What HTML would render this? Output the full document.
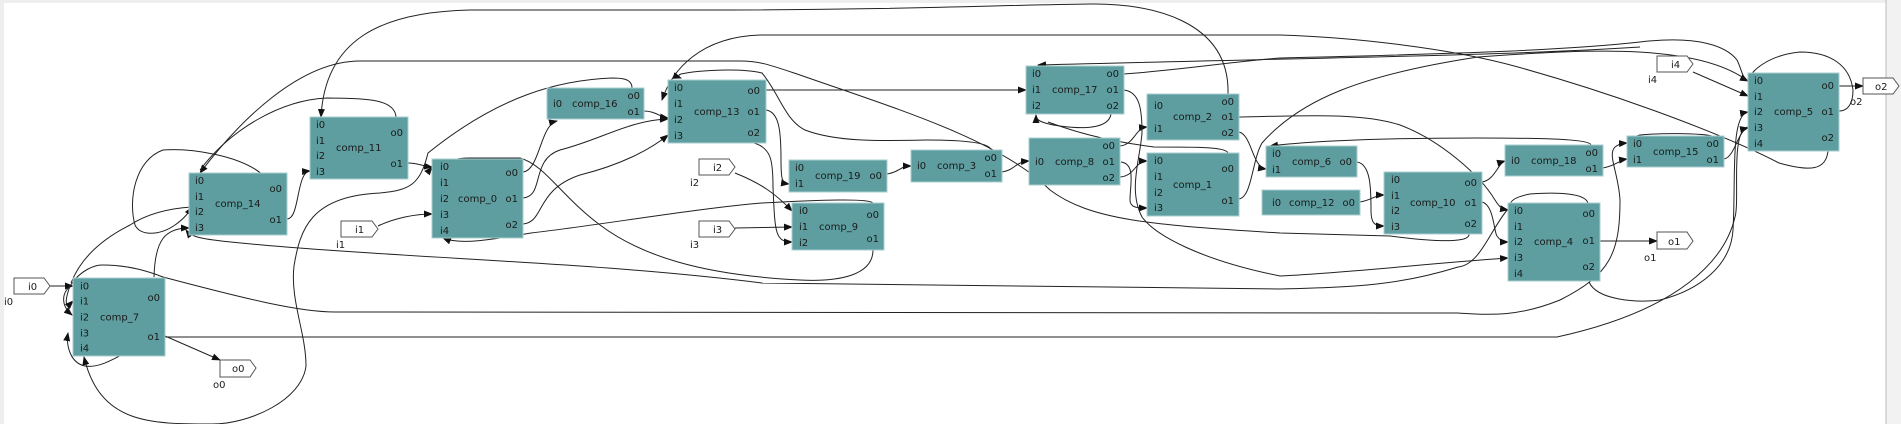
<!DOCTYPE html>
<html><head><meta charset="utf-8"><style>
html,body{margin:0;padding:0;background:#fff;}
body{width:1901px;height:424px;overflow:hidden;position:relative;}
svg{position:absolute;left:0;top:0;}
text{font-family:"DejaVu Sans","Liberation Sans",sans-serif;font-size:10px;fill:#1a1a1a;}
.b{fill:#5f9ea0;stroke:#a9cfd0;stroke-width:1;}
.e{fill:none;stroke:#222;stroke-width:1;}
.p{fill:#fff;stroke:#555;stroke-width:1;}
.r{text-anchor:end;}
.m{text-anchor:middle;}
</style></head><body>
<svg width="1901" height="424" viewBox="0 0 1901 424">
<defs><marker id="a" markerWidth="9" markerHeight="7" refX="8" refY="3.5" orient="auto" markerUnits="userSpaceOnUse"><path d="M0,0 L9,3.5 L0,7 z" fill="#111"/></marker></defs>
<rect x="0" y="0" width="1901" height="3" fill="#eee"/>
<rect x="0" y="0" width="4" height="424" fill="#eee"/>
<rect x="1886" y="0" width="15" height="424" fill="#f2f2f2"/>
<line x1="1886" y1="0" x2="1886" y2="424" stroke="#bbb"/>

<!-- edges -->
<g class="e">
<path d="M50,286 L73,286" marker-end="url(#a)"/>
<path d="M165,336 L220,360" marker-end="url(#a)"/>
<path d="M154,277 C155,240 165,228 189,228" marker-end="url(#a)"/>
<path d="M287,219 C300,219 296,172 310,171" marker-end="url(#a)"/>
<path d="M408,163 C418,163 422,166 432,167" marker-end="url(#a)"/>
<path d="M378,226 C395,218 415,214 432,214" marker-end="url(#a)"/>
<path d="M523,172 C540,170 540,125 557,121" marker-end="url(#a)"/>
<path d="M523,198 C545,196 530,160 560,150 C600,140 630,120 668,119" marker-end="url(#a)"/>
<path d="M523,224 C545,222 535,190 580,175 C620,165 650,150 668,135" marker-end="url(#a)"/>
<path d="M644,111 C655,111 660,117 668,118" marker-end="url(#a)"/>
<path d="M1228,94 C1230,20 1150,3 1090,4 C1000,5 900,10 700,10 L470,10 C380,12 325,40 321,117" marker-end="url(#a)"/>
<path d="M1469,234 C1470,245 1420,240 1390,236 L1280,233 C1150,225 1090,220 1050,190 C1000,140 900,110 800,75 C770,65 760,61 740,61 L360,61 C300,61 240,120 200,173" marker-end="url(#a)"/>
<path d="M1828,151 C1826,170 1811,172 1779,163 C1735,140 1636,100 1518,67 C1450,48 1350,37 1280,35 L760,35 C700,37 672,70 662,100" marker-end="url(#a)"/>
<path d="M632,88 C632,78 620,78 612,78 C560,80 500,95 428,153 C420,185 410,190 380,193 C310,196 300,230 294,266 C290,300 306,333 306,366 C302,400 250,424 212,424 C150,424 100,424 84,357" marker-end="url(#a)"/>
<path d="M1748,127 C1730,130 1740,200 1735,217 C1725,260 1680,310 1557,337 L163,337 C130,345 106,370 85,366 C70,363 66,345 68,333" marker-end="url(#a)"/>
<path d="M70,286 C80,270 95,265 102,265 C130,265 150,272 163,277 C250,300 300,312 335,312 L1458,313 C1490,315 1518,317 1560,300 C1610,275 1620,253 1620,200 C1618,165 1600,145 1627,143" marker-end="url(#a)"/>
<path d="M1508,209 C1490,230 1480,265 1458,267 C1400,285 1359,287 1280,289 L762,283 C600,263 449,260 286,247 C200,240 192,238 186,230" marker-end="url(#a)"/>
<path d="M873,250 C873,275 840,282 800,280 C700,275 640,255 600,225 C560,195 545,165 520,158 L470,158 C440,158 428,172 432,167" marker-end="url(#a)"/>
<path d="M873,203 C869,198 820,200 762,203 C700,208 600,225 531,233 C490,240 460,245 443,238" marker-end="url(#a)"/>
<path d="M735,173 C760,183 775,193 792,211" marker-end="url(#a)"/>
<path d="M735,228 L792,227" marker-end="url(#a)"/>
<path d="M754,143 C771,148 773,160 773,187 C775,233 775,242 792,242" marker-end="url(#a)"/>
<path d="M766,110 C779,112 781,130 781,160 C781,180 782,183 789,184" marker-end="url(#a)"/>
<path d="M887,174 C900,172 900,166 911,166" marker-end="url(#a)"/>
<path d="M1002,172 C1015,170 1015,162 1029,161" marker-end="url(#a)"/>
<path d="M991,150 C990,142 960,140 926,140 C880,141 836,142 805,130 C785,120 780,95 762,73 C740,68 700,70 681,74 C678,75 678,77 681,78" marker-end="url(#a)"/>
<path d="M766,90 L1026,90" marker-end="url(#a)"/>
<path d="M1111,114 C1109,127 1089,130 1060,126 C1040,123 1036,120 1036,115" marker-end="url(#a)"/>
<path d="M1228,153 C1226,147 1200,147 1154,147 C1100,140 1070,130 1048,122"/>
<path d="M1120,146 C1135,144 1135,128 1147,127" marker-end="url(#a)"/>
<path d="M1120,177 C1135,176 1135,161 1147,161" marker-end="url(#a)"/>
<path d="M1121,162 C1136,164 1130,185 1130,200 C1130,208 1138,208 1147,208" marker-end="url(#a)"/>
<path d="M1124,90 C1140,92 1142,110 1142,133 C1140,160 1128,190 1142,217 C1155,235 1200,260 1280,276 C1359,272 1420,264 1508,258" marker-end="url(#a)"/>
<path d="M1124,74 C1180,70 1230,62 1280,58 C1400,55 1550,52 1640,42 C1700,35 1727,47 1737,60 C1742,70 1742,78 1748,81" marker-end="url(#a)"/>
<path d="M1640,47 C1500,56 1300,58 1038,65" marker-end="url(#a)"/>
<path d="M1239,117 C1300,116 1360,112 1400,125 C1440,140 1480,175 1495,200 C1500,208 1502,209 1508,210" marker-end="url(#a)"/>
<path d="M1239,132 C1252,135 1252,167 1266,169" marker-end="url(#a)"/>
<path d="M1239,199 C1252,197 1252,160 1262,143 C1300,100 1360,75 1478,57 C1600,48 1700,45 1748,81"/>
<path d="M1591,145 C1590,140 1560,138 1478,138 C1400,138 1320,140 1270,146" marker-end="url(#a)"/>
<path d="M1357,162 C1371,164 1371,190 1371,210 C1371,224 1375,226 1384,226" marker-end="url(#a)"/>
<path d="M1360,202 C1372,200 1375,195 1384,195" marker-end="url(#a)"/>
<path d="M1482,182 C1495,180 1498,163 1505,161" marker-end="url(#a)"/>
<path d="M1482,202 C1494,205 1494,233 1497,236 C1500,240 1502,242 1508,242" marker-end="url(#a)"/>
<path d="M1603,168 C1615,166 1620,160 1627,159" marker-end="url(#a)"/>
<path d="M1724,159 C1735,157 1738,130 1748,128" marker-end="url(#a)"/>
<path d="M1712,136 C1700,133 1660,133 1640,135 C1632,137 1630,140 1627,143"/>
<path d="M1693,72 L1748,96" marker-end="url(#a)"/>
<path d="M1839,86 L1863,86" marker-end="url(#a)"/>
<path d="M1839,111 C1850,111 1853,100 1853,90 C1850,65 1830,52 1800,52 C1770,55 1750,70 1748,82"/>
<path d="M1600,241 L1657,241" marker-end="url(#a)"/>
<path d="M1589,282 C1597,300 1636,303 1660,300 C1700,290 1731,265 1733,230 C1736,180 1730,115 1748,112" marker-end="url(#a)"/>
<path d="M1588,203 C1585,193 1557,192 1530,194 C1515,197 1510,200 1508,209"/>
<path d="M263,175 C240,155 190,148 163,150 C135,160 128,200 135,225 C140,236 159,236 175,225 C185,218 189,212 192,207" marker-end="url(#a)"/>
<path d="M396,117 C395,100 370,98 327,98 C280,100 230,130 200,170"/>
<path d="M71,283 C80,260 100,240 130,225 C150,212 175,208 192,207"/>
<path d="M71,286 C62,292 60,305 72,315" marker-end="url(#a)"/>
<path d="M70,286 C65,300 64,310 73,301" marker-end="url(#a)"/>
</g>

<!-- boxes -->
<g>
<rect class="b" x="73" y="278" width="92" height="78"/>
<text x="80" y="289.5">i0</text><text x="80" y="304.5">i1</text><text x="80" y="320.5">i2</text><text x="80" y="336.5">i3</text><text x="80" y="351.5">i4</text>
<text class="r" x="160" y="301">o0</text><text class="r" x="160" y="340">o1</text><text x="100" y="320.5">comp_7</text>

<rect class="b" x="189" y="173" width="98" height="62"/>
<text x="195" y="184">i0</text><text x="195" y="200">i1</text><text x="195" y="215">i2</text><text x="195" y="231">i3</text>
<text class="r" x="282" y="192">o0</text><text class="r" x="282" y="223">o1</text><text x="215" y="207">comp_14</text>

<rect class="b" x="310" y="117" width="98" height="62"/>
<text x="316" y="128">i0</text><text x="316" y="144">i1</text><text x="316" y="159">i2</text><text x="316" y="175">i3</text>
<text class="r" x="403" y="136">o0</text><text class="r" x="403" y="167">o1</text><text x="336" y="151">comp_11</text>

<rect class="b" x="432" y="159" width="91" height="79"/>
<text x="440" y="170">i0</text><text x="440" y="186">i1</text><text x="440" y="202">i2</text><text x="440" y="218">i3</text><text x="440" y="234">i4</text>
<text class="r" x="518" y="176">o0</text><text class="r" x="518" y="202">o1</text><text class="r" x="518" y="228">o2</text><text x="458" y="202">comp_0</text>

<rect class="b" x="547" y="88" width="97" height="31"/>
<text x="553" y="107">i0</text><text class="r" x="640" y="99">o0</text><text class="r" x="640" y="115">o1</text><text x="572" y="107">comp_16</text>

<rect class="b" x="668" y="80" width="98" height="63"/>
<text x="674" y="91">i0</text><text x="674" y="107">i1</text><text x="674" y="123">i2</text><text x="674" y="139">i3</text>
<text class="r" x="760" y="94">o0</text><text class="r" x="760" y="115">o1</text><text class="r" x="760" y="136">o2</text><text x="694" y="115">comp_13</text>

<rect class="b" x="1026" y="66" width="98" height="48"/>
<text x="1032" y="77">i0</text><text x="1032" y="93">i1</text><text x="1032" y="109">i2</text>
<text class="r" x="1119" y="77">o0</text><text class="r" x="1119" y="93">o1</text><text class="r" x="1119" y="109">o2</text><text x="1052" y="93">comp_17</text>

<rect class="b" x="1147" y="94" width="92" height="46"/>
<text x="1154" y="109">i0</text><text x="1154" y="132">i1</text>
<text class="r" x="1234" y="105">o0</text><text class="r" x="1234" y="120">o1</text><text class="r" x="1234" y="136">o2</text><text x="1173" y="120">comp_2</text>

<rect class="b" x="789" y="160" width="98" height="32"/>
<text x="795" y="171">i0</text><text x="795" y="187">i1</text><text class="r" x="882" y="179">o0</text><text x="815" y="179">comp_19</text>

<rect class="b" x="911" y="150" width="91" height="32"/>
<text x="917" y="169">i0</text><text class="r" x="997" y="161">o0</text><text class="r" x="997" y="177">o1</text><text x="937" y="169">comp_3</text>

<rect class="b" x="1029" y="138" width="91" height="47"/>
<text x="1035" y="165">i0</text><text class="r" x="1115" y="149">o0</text><text class="r" x="1115" y="165">o1</text><text class="r" x="1115" y="181">o2</text><text x="1055" y="165">comp_8</text>

<rect class="b" x="1147" y="153" width="92" height="63"/>
<text x="1154" y="164">i0</text><text x="1154" y="180">i1</text><text x="1154" y="196">i2</text><text x="1154" y="211">i3</text>
<text class="r" x="1234" y="172">o0</text><text class="r" x="1234" y="204">o1</text><text x="1173" y="188">comp_1</text>

<rect class="b" x="792" y="203" width="92" height="47"/>
<text x="799" y="214">i0</text><text x="799" y="230">i1</text><text x="799" y="246">i2</text>
<text class="r" x="879" y="218">o0</text><text class="r" x="879" y="242">o1</text><text x="819" y="230">comp_9</text>

<rect class="b" x="1266" y="146" width="91" height="31"/>
<text x="1272" y="157">i0</text><text x="1272" y="173">i1</text><text class="r" x="1352" y="165">o0</text><text x="1292" y="165">comp_6</text>

<rect class="b" x="1262" y="190" width="98" height="25"/>
<text x="1272" y="206">i0</text><text class="r" x="1355" y="206">o0</text><text x="1289" y="206">comp_12</text>

<rect class="b" x="1384" y="172" width="98" height="62"/>
<text x="1391" y="183">i0</text><text x="1391" y="199">i1</text><text x="1391" y="214">i2</text><text x="1391" y="230">i3</text>
<text class="r" x="1477" y="186">o0</text><text class="r" x="1477" y="206">o1</text><text class="r" x="1477" y="227">o2</text><text x="1410" y="206">comp_10</text>

<rect class="b" x="1505" y="145" width="98" height="31"/>
<text x="1511" y="164">i0</text><text class="r" x="1598" y="156">o0</text><text class="r" x="1598" y="172">o1</text><text x="1531" y="164">comp_18</text>

<rect class="b" x="1627" y="136" width="97" height="31"/>
<text x="1633" y="147">i0</text><text x="1633" y="163">i1</text><text class="r" x="1719" y="147">o0</text><text class="r" x="1719" y="163">o1</text><text x="1653" y="155">comp_15</text>

<rect class="b" x="1508" y="203" width="92" height="78"/>
<text x="1514" y="214">i0</text><text x="1514" y="230">i1</text><text x="1514" y="245">i2</text><text x="1514" y="261">i3</text><text x="1514" y="277">i4</text>
<text class="r" x="1595" y="217">o0</text><text class="r" x="1595" y="244">o1</text><text class="r" x="1595" y="270">o2</text><text x="1534" y="245">comp_4</text>

<rect class="b" x="1748" y="73" width="91" height="78"/>
<text x="1754" y="84">i0</text><text x="1754" y="100">i1</text><text x="1754" y="115">i2</text><text x="1754" y="131">i3</text><text x="1754" y="147">i4</text>
<text class="r" x="1834" y="89">o0</text><text class="r" x="1834" y="115">o1</text><text class="r" x="1834" y="141">o2</text><text x="1774" y="115">comp_5</text>
</g>

<!-- io ports -->
<g>
<polygon class="p" points="14,278 44,278 50,286 44,294 14,294"/><text x="28" y="290">i0</text><text x="4" y="305">i0</text>
<polygon class="p" points="341,221 372,221 378,229 372,237 341,237"/><text x="355" y="233">i1</text><text x="336" y="248">i1</text>
<polygon class="p" points="699,159 729,159 735,167 729,175 699,175"/><text x="713" y="171">i2</text><text x="690" y="186">i2</text>
<polygon class="p" points="699,221 729,221 735,229 729,237 699,237"/><text x="713" y="233">i3</text><text x="690" y="248">i3</text>
<polygon class="p" points="1657,56 1687,56 1693,64 1687,72 1657,72"/><text x="1671" y="68">i4</text><text x="1648" y="83">i4</text>
<polygon class="p" points="220,360 250,360 256,368 250,377 220,377"/><text x="232" y="372">o0</text><text x="213" y="388">o0</text>
<polygon class="p" points="1657,232 1687,232 1693,241 1687,249 1657,249"/><text x="1668" y="245">o1</text><text x="1644" y="261">o1</text>
<polygon class="p" points="1863,78 1893,78 1899,86 1893,94 1863,94"/><text x="1875" y="90">o2</text><text x="1850" y="105">o2</text>
</g>
</svg>
</body></html>
